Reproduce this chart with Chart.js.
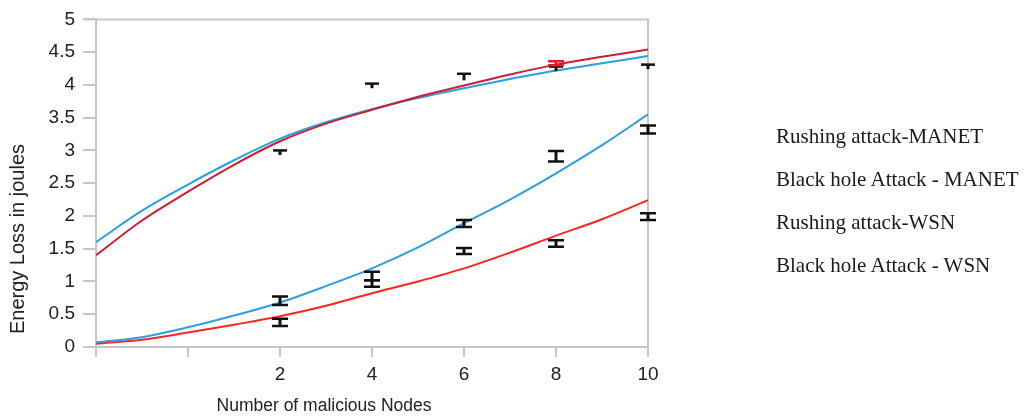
<!DOCTYPE html>
<html>
<head>
<meta charset="utf-8">
<script src="https://cdn.jsdelivr.net/npm/chart.js@4.4.1/dist/chart.umd.min.js"></script>
<style>
  html, body { margin: 0; padding: 0; background: #fff; }
  #wrap { position: relative; width: 1026px; height: 419px; }
  #legend {
    position: absolute; left: 776px; top: 115px;
    font-family: "Liberation Serif", "Times New Roman", serif;
    font-size: 21px; color: #1a1a1a; line-height: 43px;
  }
</style>
</head>
<body>
<div id="wrap">
  <canvas id="energyChart" width="1026" height="419"></canvas>
  <div id="legend"></div>
</div>
<script>
// x positions of the fitted curves (number of malicious nodes)
const curveX = [-2, -1, 0, 1, 2, 3, 4, 5, 6, 7, 8, 9, 10];

// Fitted curves, energy loss in joules
const rushingManet = [1.40, 1.93, 2.37, 2.78, 3.14, 3.41, 3.62, 3.82, 3.99, 4.16, 4.31, 4.43, 4.54];
const blackholeManet = [1.60, 2.08, 2.48, 2.85, 3.18, 3.43, 3.63, 3.80, 3.95, 4.09, 4.22, 4.33, 4.44];
const rushingWsn = [0.07, 0.15, 0.30, 0.48, 0.68, 0.93, 1.20, 1.52, 1.89, 2.25, 2.65, 3.08, 3.55];
const blackholeWsn = [0.05, 0.11, 0.22, 0.34, 0.47, 0.63, 0.82, 1.00, 1.20, 1.44, 1.70, 1.95, 2.24];

const seriesLabels = ['Rushing attack-MANET', 'Black hole Attack - MANET', 'Rushing attack-WSN', 'Black hole Attack - WSN'];

// Measured points with error bars
const barX = [2, 4, 6, 8, 10];
const manetLo = [2.93, 3.95, 4.07, 4.21, 4.24];
const manetHi = [3.00, 4.02, 4.17, 4.28, 4.31];
const wsnMidLo = [0.64, 1.02, 1.83, 2.83, 3.26];
const wsnMidHi = [0.77, 1.15, 1.94, 2.99, 3.38];
const wsnLowLo = [0.32, 0.92, 1.42, 1.53, 1.94];
const wsnLowHi = [0.43, 1.02, 1.51, 1.63, 2.04];
const redBarX = [8];
const redBarLo = [4.30];
const redBarHi = [4.36];

const xTicks = [2, 4, 6, 8, 10];

const toPoints = (vals) => vals.map((v, i) => ({ x: curveX[i], y: v }));

// error bars drawn through the chart scales
const errorBars = {
  id: 'errorBars',
  afterDatasetsDraw(chart) {
    const { ctx, scales: { x, y } } = chart;
    const draw = (xs, lo, hi, color, topOnly) => {
      ctx.save();
      ctx.strokeStyle = color;
      xs.forEach((xv, i) => {
        const px = x.getPixelForValue(xv);
        const top = y.getPixelForValue(hi[i]);
        const bot = y.getPixelForValue(lo[i]);
        const half = topOnly ? 7 : 8;
        ctx.lineWidth = 3;
        ctx.beginPath();
        ctx.moveTo(px, top);
        ctx.lineTo(px, bot);
        ctx.stroke();
        ctx.lineWidth = 2.5;
        ctx.beginPath();
        ctx.moveTo(px - half, top);
        ctx.lineTo(px + half, top);
        if (!topOnly) {
          ctx.moveTo(px - half, bot);
          ctx.lineTo(px + half, bot);
        }
        ctx.stroke();
      });
      ctx.restore();
    };
    draw(barX, manetLo, manetHi, '#111', true);
    draw(barX, wsnMidLo, wsnMidHi, '#111', false);
    draw(barX, wsnLowLo, wsnLowHi, '#111', false);
    draw(redBarX, redBarLo, redBarHi, '#e02020', false);
  }
};

// top and right frame lines plus the axis titles
const frame = {
  id: 'frame',
  beforeDatasetsDraw(chart) {
    const { ctx, chartArea: a } = chart;
    ctx.save();
    ctx.strokeStyle = '#c6c6c6';
    ctx.lineWidth = 2;
    ctx.beginPath();
    ctx.moveTo(a.left - 12, a.top);
    ctx.lineTo(a.right, a.top);
    ctx.lineTo(a.right, a.bottom);
    ctx.stroke();
    ctx.restore();
  },
  afterDraw(chart) {
    const { ctx } = chart;
    ctx.save();
    ctx.fillStyle = '#222';
    ctx.textAlign = 'center';
    ctx.textBaseline = 'middle';
    ctx.font = '17.5px "Liberation Sans", Arial, sans-serif';
    ctx.fillText('Number of malicious Nodes', 324, 406);
    ctx.translate(18, 239);
    ctx.rotate(-Math.PI / 2);
    ctx.font = '20px "Liberation Sans", Arial, sans-serif';
    ctx.fillText('Energy Loss in joules', 0, 0);
    ctx.restore();
  }
};

const lineSet = (label, vals, color) => ({
  label: label,
  data: toPoints(vals),
  borderColor: color,
  backgroundColor: color,
  borderWidth: 2,
  pointRadius: 0,
  cubicInterpolationMode: 'monotone',
  fill: false,
});

const ctx = document.getElementById('energyChart').getContext('2d');
new Chart(ctx, {
  type: 'line',
  data: {
    datasets: [
      lineSet(seriesLabels[0], rushingManet, '#cc1f32'),
      lineSet(seriesLabels[1], blackholeManet, '#2b9fe2'),
      lineSet(seriesLabels[2], rushingWsn, '#2b9fe2'),
      lineSet(seriesLabels[3], blackholeWsn, '#ff2424'),
    ],
  },
  options: {
    responsive: false,
    animation: false,
    layout: { padding: { top: 17, right: 378, left: 0, bottom: 0 } },
    scales: {
      x: {
        type: 'linear',
        min: -2,
        max: 10,
        afterFit: (s) => { s.height = 72; },
        afterBuildTicks: (s) => { s.ticks = [-2, 0, ...xTicks].map((v) => ({ value: v })); },
        grid: { drawOnChartArea: false, drawTicks: true, tickLength: 10, color: '#c6c6c6', lineWidth: 2 },
        border: { display: true, color: '#c6c6c6', width: 2 },
        ticks: {
          padding: 6,
          color: '#222',
          font: { family: '"Liberation Sans", Arial, sans-serif', size: 19 },
          callback: (v) => (xTicks.includes(v) ? v : ''),
        },
      },
      y: {
        min: 0,
        max: 5,
        afterFit: (s) => { s.width = 96; },
        grid: { drawOnChartArea: false, drawTicks: true, tickLength: 13, color: '#c6c6c6', lineWidth: 2 },
        border: { display: true, color: '#c6c6c6', width: 2 },
        ticks: {
          stepSize: 0.5,
          padding: 8,
          color: '#222',
          font: { family: '"Liberation Sans", Arial, sans-serif', size: 19 },
          callback: (v) => String(v),
        },
      },
    },
    plugins: {
      legend: { display: false },
      tooltip: { enabled: false },
    },
  },
  plugins: [frame, errorBars],
});

// plain text legend on the right, as in the original figure
const legendBox = document.getElementById('legend');
seriesLabels.forEach((label) => {
  const row = document.createElement('div');
  row.textContent = label;
  legendBox.appendChild(row);
});
</script>
</body>
</html>
